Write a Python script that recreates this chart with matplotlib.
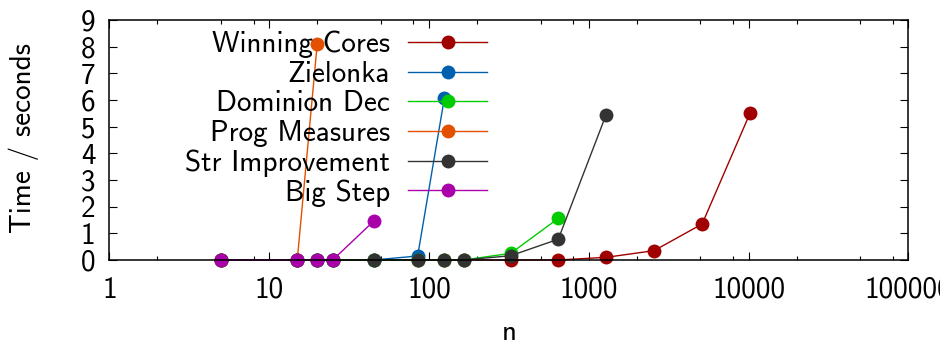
import matplotlib
matplotlib.use("Agg")
import matplotlib.pyplot as plt
from matplotlib.ticker import FixedLocator, NullFormatter

plt.rcParams['font.family'] = ['cmss10', 'DejaVu Sans']
plt.rcParams['axes.unicode_minus'] = False
plt.rcParams['mathtext.fontset'] = 'cm'

# problem sizes n and solve times (seconds) per algorithm
n_winning = [5, 15, 20, 25, 45, 85, 125, 165, 325, 645, 1285, 2565, 5125, 10245]
t_winning = [0, 0, 0, 0, 0, 0, 0, 0, 0, 0, 0.1, 0.35, 1.35, 5.52]

n_zielonka = [5, 15, 20, 25, 45, 85, 125]
t_zielonka = [0, 0, 0, 0, 0, 0.15, 6.08]

n_dominion = [5, 15, 20, 25, 45, 85, 125, 165, 325, 645]
t_dominion = [0, 0, 0, 0, 0, 0, 0, 0, 0.25, 1.56]

n_prog = [5, 15, 20]
t_prog = [0, 0, 8.1]

n_str = [5, 15, 20, 25, 45, 85, 125, 165, 325, 645, 1285]
t_str = [0, 0, 0, 0, 0, 0, 0, 0, 0.16, 0.78, 5.45]

n_bigstep = [5, 15, 20, 25, 45]
t_bigstep = [0, 0, 0, 0, 1.45]

labels = ["Winning Cores", "Zielonka", "Dominion Dec", "Prog Measures",
          "Str Improvement", "Big Step"]
colors = ["#a00000", "#0060ad", "#00cc00", "#e35000", "#333333", "#aa00aa"]

x_ticks = [1, 10, 100, 1000, 10000, 100000]
x_ticklabels = ["1", "10", "100", "1000", "10000", "100000"]
y_ticks = list(range(0, 10))

FS = 21


def main():
    fig = plt.figure(figsize=(9.4, 3.42), dpi=100)
    ax = fig.add_axes([0.1163, 0.2398, 0.8500, 0.7017])

    series = [(n_winning, t_winning), (n_zielonka, t_zielonka),
              (n_dominion, t_dominion), (n_prog, t_prog),
              (n_str, t_str), (n_bigstep, t_bigstep)]
    for (xs, ys), lab, col in zip(series, labels, colors):
        ax.plot(xs, ys, color=col, lw=1.0, marker='o', ms=10,
                markeredgewidth=0, label=lab, clip_on=False)

    ax.set_xscale('log')
    ax.set_xlim(1, 100000)
    ax.set_ylim(0, 9)
    ax.set_xticks(x_ticks, x_ticklabels)
    minors = [m * d for d in x_ticks[:-1] for m in (2, 5, 8)]
    ax.xaxis.set_minor_locator(FixedLocator(minors))
    ax.xaxis.set_minor_formatter(NullFormatter())
    ax.set_yticks(y_ticks)

    ax.tick_params(which='both', direction='in', top=True, right=True,
                   labelsize=FS, width=0.8)
    ax.tick_params(which='major', length=6)
    ax.tick_params(which='minor', length=3)
    ax.tick_params(axis='x', pad=12)
    ax.tick_params(axis='y', pad=10)
    for sp in ax.spines.values():
        sp.set_linewidth(1.1)

    ax.set_xlabel("n", fontsize=FS, va='baseline')
    ax.set_ylabel("Time / seconds", fontsize=FS)
    ax.xaxis.set_label_coords(0.5, -0.335)
    ax.yaxis.set_label_coords(-0.088, 0.51)

    ax.legend(loc='upper right', bbox_to_anchor=(0.4727, 0.955),
              markerfirst=False, frameon=False, fontsize=FS,
              handlelength=2.7, handletextpad=0.62, labelspacing=0.085,
              borderpad=0, borderaxespad=0)

    fig.savefig("out.png", dpi=100)


if __name__ == '__main__':
    main()
